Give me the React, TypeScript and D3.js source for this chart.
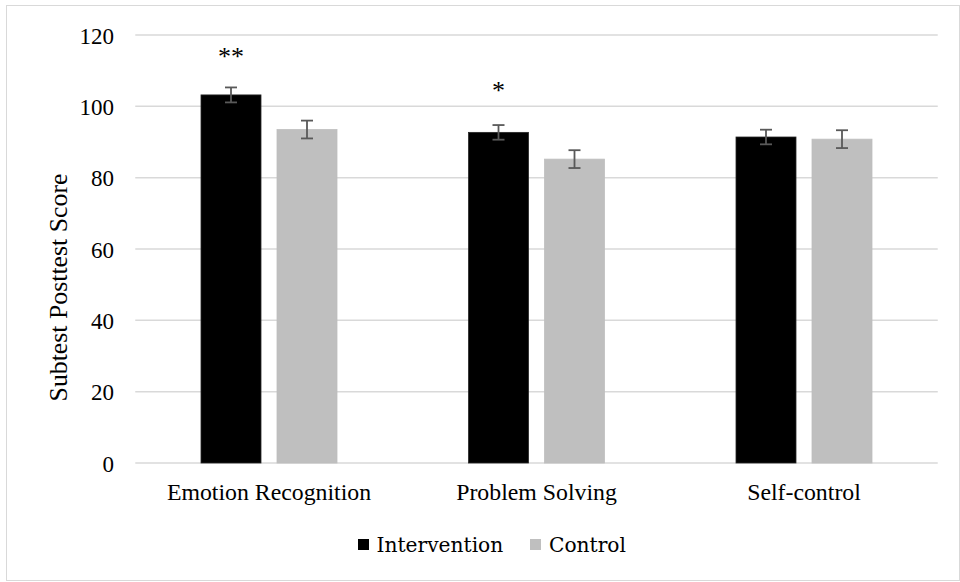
import React from "react";
import * as d3 from "d3";

const categories = ["Emotion Recognition", "Problem Solving", "Self-control"];
const series = ["Intervention", "Control"];
const interventionValues = [103.2, 92.7, 91.4];
const controlValues = [93.5, 85.2, 90.8];
const interventionErrors = [2.1, 2.05, 2.05];
const controlErrors = [2.5, 2.5, 2.5];
const significance = ["**", "*", ""];
const significanceLevel = [115, 105.7, 0];
const yTicks = [0, 20, 40, 60, 80, 100, 120];
const yLabel = "Subtest Posttest Score";

const W = 960;
const H = 582;
const colors: Record<string, string> = { Intervention: "#000000", Control: "#bfbfbf" };

export default function App() {
  const left = 135.25;
  const right = 937.75;
  const top = 35;
  const bottom = 463;

  const x0 = d3.scaleBand<string>().domain(categories).range([left, right]).paddingInner(0).paddingOuter(0);
  const y = d3.scaleLinear().domain([0, 120]).range([bottom, top]);
  const barW = 60;
  const gap = 16;
  const valuesBySeries: Record<string, number[]> = { Intervention: interventionValues, Control: controlValues };
  const errBySeries: Record<string, number[]> = { Intervention: interventionErrors, Control: controlErrors };

  const barX = (ci: number, si: number) => {
    const c = (x0(categories[ci]) as number) + x0.bandwidth() / 2;
    const groupW = barW * 2 + gap;
    return c - groupW / 2 + si * (barW + gap);
  };

  return (
    <svg width={W} height={H} style={{ position: "absolute", left: 0, top: 0, display: "block" }}>
      <rect x={0} y={0} width={W} height={H} fill="#fff" />
      <rect x={6.5} y={5.5} width={953} height={575} fill="none" stroke="#d9d9d9" strokeWidth={1} />
      {yTicks.map((t) => (
        <g key={t}>
          <line x1={left} x2={right} y1={y(t)} y2={y(t)} stroke="#d9d9d9" strokeWidth={1.5} />
          <text x={114} y={y(t) + 8.5} textAnchor="end" fontFamily="Liberation Serif" fontSize={23} fill="#000">
            {t}
          </text>
        </g>
      ))}
      <text
        transform={`translate(67,287.5) rotate(-90)`}
        textAnchor="middle"
        fontFamily="Liberation Serif"
        fontSize={25.8}
        fill="#000"
      >
        {yLabel}
      </text>
      {categories.map((cat, ci) => (
        <g key={cat}>
          {series.map((s, si) => {
            const v = valuesBySeries[s][ci];
            const e = errBySeries[s][ci];
            const bx = barX(ci, si);
            const cx = bx + barW / 2;
            return (
              <g key={s}>
                <rect
                  x={bx}
                  y={y(v)}
                  width={barW}
                  height={bottom - y(v)}
                  fill={colors[s]}
                  stroke={s === "Intervention" ? "#262626" : "#bfbfbf"}
                  strokeWidth={0.8}
                />
                <line x1={cx} x2={cx} y1={y(v + e)} y2={y(v - e)} stroke="#595959" strokeWidth={1.8} />
                <line x1={cx - 6} x2={cx + 6} y1={y(v + e)} y2={y(v + e)} stroke="#595959" strokeWidth={1.8} />
                <line x1={cx - 6} x2={cx + 6} y1={y(v - e)} y2={y(v - e)} stroke="#595959" strokeWidth={1.8} />
              </g>
            );
          })}
          {significance[ci] && (
            <text
              x={barX(ci, 0) + barW / 2}
              y={y(significanceLevel[ci]) + 12.5}
              textAnchor="middle"
              fontFamily="Liberation Serif"
              fontSize={26}
              fill="#000"
            >
              {significance[ci]}
            </text>
          )}
          <text
            x={(x0(cat) as number) + x0.bandwidth() / 2}
            y={500}
            textAnchor="middle"
            fontFamily="Liberation Serif"
            fontSize={23.8}
            fill="#000"
          >
            {cat}
          </text>
        </g>
      ))}
      <g>
        <rect x={358} y={539} width={11} height={11} fill={colors.Intervention} />
        <text x={376.5} y={551.5} fontFamily="DejaVu Serif" fontSize={20.2} fill="#000">
          {series[0]}
        </text>
        <rect x={530} y={539} width={11} height={11} fill={colors.Control} />
        <text x={549} y={551.5} fontFamily="DejaVu Serif" fontSize={20.2} fill="#000">
          {series[1]}
        </text>
      </g>
    </svg>
  );
}
